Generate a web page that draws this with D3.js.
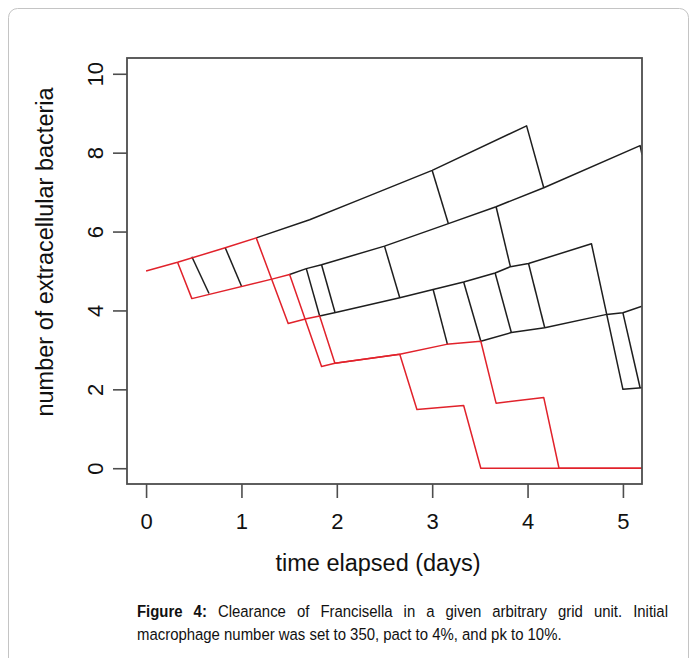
<!DOCTYPE html>
<html>
<head>
<meta charset="utf-8">
<style>
body { margin: 0; background: #fff; }
svg { display: block; font-family: "Liberation Sans", Arial, sans-serif; }
</style>
</head>
<body>
<svg width="697" height="658"></svg>
<script src="https://cdn.jsdelivr.net/npm/d3@7/dist/d3.min.js"></script>
<script>
/* values: [time in days, number of bacteria] */

var xTicks = [0, 1, 2, 3, 4, 5];
var yTicks = [0, 2, 4, 6, 8, 10];

// the two runs that die out (red)
var redRunA = [[0, 5.0], [0.33, 5.22], [0.83, 5.59], [1.155, 5.84], [1.49, 3.67], [1.68, 3.79],
	[1.82, 3.86], [1.98, 2.66], [2.66, 2.89], [3.15, 3.14], [3.51, 3.22], [3.67, 1.65],
	[4.17, 1.79], [4.33, 0], [5.2, 0]];
var redRunB = [[0.33, 5.22], [0.48, 4.30], [1.33, 4.80], [1.505, 4.91], [1.84, 2.58], [1.98, 2.66],
	[2.66, 2.89], [2.84, 1.49], [3.33, 1.59], [3.51, 0], [5.2, 0]];

// surviving runs (black)
var blackRun1 = [[1.155, 5.84], [1.715, 6.30], [2.24, 6.81], [3.0, 7.55], [3.99, 8.68], [4.17, 7.11]];
var blackRun2 = [[1.505, 4.91], [1.68, 5.06], [1.84, 5.16], [2.50, 5.63], [3.17, 6.20], [3.67, 6.63],
	[4.17, 7.11], [5.18, 8.18], [5.2, 7.95]];
var blackRun3 = [[1.82, 3.86], [2.01, 3.96], [2.66, 4.32], [3.01, 4.53], [3.33, 4.72], [3.66, 4.95],
	[3.82, 5.11], [4.01, 5.19], [4.67, 5.69], [5.0, 2.0], [5.2, 2.04]];
var blackRun4 = [[3.51, 3.22], [3.83, 3.44], [4.18, 3.56], [4.83, 3.90], [5.0, 3.94], [5.2, 4.11]];

// single killing events that join a lower run
var blackDrops = [
	[[0.48, 5.36], [0.66, 4.43]],
	[[0.83, 5.59], [1.0, 4.62]],
	[[1.68, 5.06], [1.82, 3.86]],
	[[1.84, 5.16], [1.98, 3.96]],
	[[2.50, 5.63], [2.66, 4.32]],
	[[3.0, 7.55], [3.17, 6.20]],
	[[3.67, 6.63], [3.82, 5.11]],
	[[3.01, 4.53], [3.16, 3.14]],
	[[3.33, 4.72], [3.51, 3.22]],
	[[3.66, 4.95], [3.83, 3.44]],
	[[4.01, 5.19], [4.18, 3.56]],
	[[5.0, 3.94], [5.18, 2.04]]
];

var svg = d3.select("svg"),
    box = {left: 127, right: 642, top: 58, bottom: 484};

var axisColor = "#4d4d4d",
    lineColor = "#1e1e1e",
    redColor = "#e1222b";

// outer figure frame
svg.append("rect")
	.attr("x", 8.5).attr("y", 8.5)
	.attr("width", 680).attr("height", 680)
	.attr("rx", 9)
	.attr("fill", "none")
	.attr("stroke", "#c4c4c4")
	.attr("stroke-width", 1);

var xScale = d3.scaleLinear()
	.domain([-0.2, 5.2])
	.range([box.left, box.right]);

var yScale = d3.scaleLinear()
	.domain([-0.4, 10.4])
	.range([box.bottom, box.top]);

svg.append("clipPath").attr("id", "plotclip")
	.append("rect")
	.attr("x", box.left).attr("y", box.top)
	.attr("width", box.right - box.left).attr("height", box.bottom - box.top);

var lineFunction = d3.line()
	.x(function(d) { return xScale(d[0]); })
	.y(function(d) { return yScale(d[1]); });

var plot = svg.append("g").attr("clip-path", "url(#plotclip)");

var blackLines = [blackRun1, blackRun2, blackRun3, blackRun4].concat(blackDrops);

plot.selectAll(".black")
	.data(blackLines)
	.enter().append("path")
	.attr("class", "black")
	.attr("d", lineFunction)
	.attr("stroke", lineColor)
	.attr("stroke-width", 1.5)
	.attr("stroke-linejoin", "round")
	.attr("fill", "none");

plot.selectAll(".red")
	.data([redRunB, redRunA])
	.enter().append("path")
	.attr("class", "red")
	.attr("d", lineFunction)
	.attr("stroke", redColor)
	.attr("stroke-width", 1.5)
	.attr("stroke-linejoin", "round")
	.attr("fill", "none");

// axes
var xAxis = svg.append("g")
	.attr("transform", "translate(0," + box.bottom + ")")
	.call(d3.axisBottom(xScale).tickValues(xTicks).tickSize(14).tickPadding(15).tickFormat(d3.format("d")));

var yAxis = svg.append("g")
	.attr("transform", "translate(" + box.left + ",0)")
	.call(d3.axisLeft(yScale).tickValues(yTicks).tickSize(14).tickFormat(d3.format("d")));

[xAxis, yAxis].forEach(function(ax) {
	ax.select(".domain").remove();
	ax.selectAll(".tick line").attr("stroke", axisColor).attr("stroke-width", 1.6);
	ax.selectAll(".tick text")
		.attr("fill", "#111")
		.style("font-size", "22px")
		.style("font-family", "\"Liberation Sans\", Arial, sans-serif");
});

yAxis.selectAll(".tick text")
	.attr("x", null).attr("dy", null)
	.attr("text-anchor", "middle")
	.attr("transform", "translate(-24,0) rotate(-90)");

// plot frame
svg.append("rect")
	.attr("x", box.left).attr("y", box.top)
	.attr("width", box.right - box.left).attr("height", box.bottom - box.top)
	.attr("fill", "none")
	.attr("stroke", axisColor)
	.attr("stroke-width", 1.8);

// axis titles
svg.append("text")
	.attr("x", 378)
	.attr("y", 571)
	.attr("text-anchor", "middle")
	.attr("fill", "#111")
	.style("font-size", "23.5px")
	.text("time elapsed (days)");

svg.append("text")
	.attr("transform", "translate(53,252) rotate(-90)")
	.attr("text-anchor", "middle")
	.attr("fill", "#111")
	.style("font-size", "23.5px")
	.text("number of extracellular bacteria");

// caption, first line justified
var capLeft = 137, capRight = 668, capSize = 17;
var cap = svg.append("g").style("font-size", capSize + "px").attr("fill", "#111");

var line2 = cap.append("text")
	.attr("x", capLeft).attr("y", 640)
	.text("macrophage number was set to 350, pact to 4%, and pk to 10%.");

// squeeze the glyphs so line two is as wide as in the figure (narrow face)
var squeeze = 425 / line2.node().getComputedTextLength();
cap.attr("transform", "translate(" + capLeft + ",0) scale(" + squeeze + ",1) translate(" + (-capLeft) + ",0)");

var words1 = ["Figure", "4:", "Clearance", "of", "Francisella", "in", "a", "given", "arbitrary", "grid", "unit.", "Initial"];
var wordNodes = words1.map(function(w, i) {
	return cap.append("text")
		.attr("y", 617)
		.style("font-weight", i < 2 ? "bold" : "normal")
		.text(w);
});
var widths = wordNodes.map(function(n) { return n.node().getComputedTextLength(); });
var avail = (capRight - capLeft) / squeeze;
var gap = (avail - d3.sum(widths)) / (words1.length - 1);
var cx = capLeft;
wordNodes.forEach(function(n, i) {
	n.attr("x", cx);
	cx += widths[i] + gap;
});
</script>
</body>
</html>
